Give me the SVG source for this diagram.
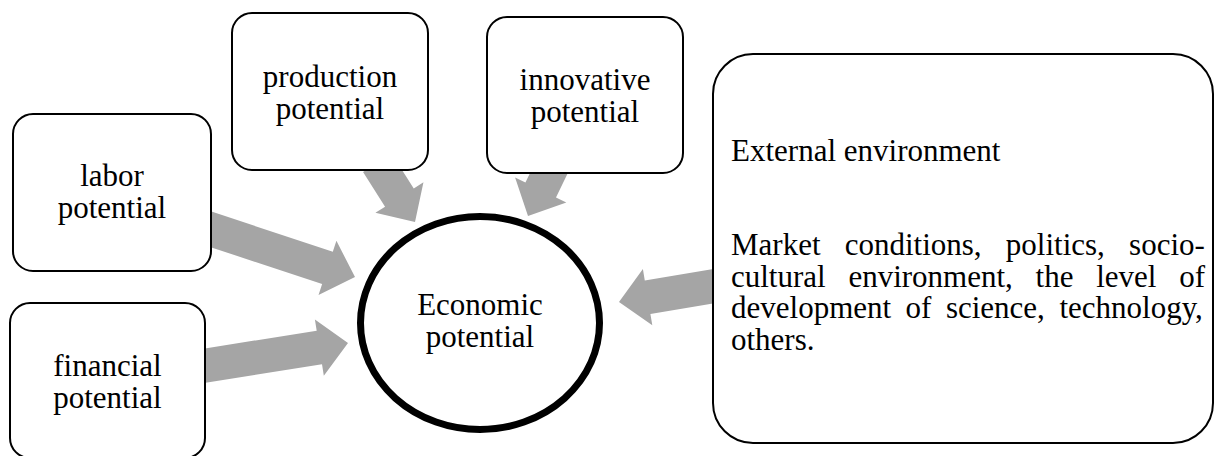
<svg xmlns="http://www.w3.org/2000/svg" width="1215" height="456" viewBox="0 0 1215 456">
<defs>
<style>
.box{fill:#fff;stroke:#000;stroke-width:2}
.hub{fill:#fff;stroke:#000;stroke-width:7}
.arr{fill:#a5a5a5;stroke:none}
.t{font-family:"Liberation Serif","Times New Roman",serif;font-size:31px;fill:#000}
.c{text-anchor:middle}
</style>
</defs>
<rect width="1215" height="456" fill="#fff"/>
<g id="connectors">
<polygon class="arr" transform="translate(355,277) rotate(18.3)" points="0,0 -29,-28.5 -29,-17 -160,-17 -160,17 -29,17 -29,28.5"/>
<polygon class="arr" transform="translate(348,343) rotate(-9)" points="0,0 -29,-28.5 -29,-17 -150,-17 -150,17 -29,17 -29,28.5"/>
<polygon class="arr" transform="translate(415,222) rotate(57.5)" points="0,0 -29,-28.5 -29,-17 -70,-17 -70,17 -29,17 -29,28.5"/>
<polygon class="arr" transform="translate(528,216) rotate(116)" points="0,0 -29,-28.5 -29,-17 -56,-17 -56,17 -29,17 -29,28.5"/>
<polygon class="arr" transform="translate(619,302) rotate(170.5)" points="0,0 -29,-28.5 -29,-17 -103,-17 -103,17 -29,17 -29,28.5"/>
</g>
<g id="labor">
<rect class="box" x="13" y="114" width="198" height="157" rx="20"/>
<text class="t c" x="112" y="186">labor</text>
<text class="t c" x="112" y="218">potential</text>
</g>
<g id="financial">
<rect class="box" x="10" y="303" width="195" height="155" rx="20"/>
<text class="t c" x="107.5" y="376">financial</text>
<text class="t c" x="107.5" y="408">potential</text>
</g>
<g id="production">
<rect class="box" x="232" y="13" width="196" height="157" rx="20"/>
<text class="t c" x="330" y="87">production</text>
<text class="t c" x="330" y="119">potential</text>
</g>
<g id="innovative">
<rect class="box" x="487" y="17" width="196" height="156" rx="20"/>
<text class="t c" x="585" y="90">innovative</text>
<text class="t c" x="585" y="122">potential</text>
</g>
<g id="economic">
<ellipse class="hub" cx="480" cy="323" rx="119.5" ry="106.5"/>
<text class="t c" x="480" y="315">Economic</text>
<text class="t c" x="480" y="347">potential</text>
</g>
<g id="external">
<rect class="box" x="713" y="54" width="500" height="389" rx="40"/>
<text class="t" x="731" y="161">External environment</text>
<text class="t" y="255"><tspan x="731">Market</tspan><tspan x="844.7">conditions,</tspan><tspan x="1005.8">politics,</tspan><tspan x="1129.1">socio-</tspan></text>
<text class="t" y="286.5"><tspan x="731">cultural</tspan><tspan x="848.4">environment,</tspan><tspan x="1035.6">the</tspan><tspan x="1096.2">level</tspan><tspan x="1179.2">of</tspan></text>
<text class="t" y="318"><tspan x="731">development</tspan><tspan x="905.6">of</tspan><tspan x="945.9">science,</tspan><tspan x="1059.4">technology,</tspan></text>
<text class="t" x="731" y="349.5">others.</text>
</g>
</svg>
